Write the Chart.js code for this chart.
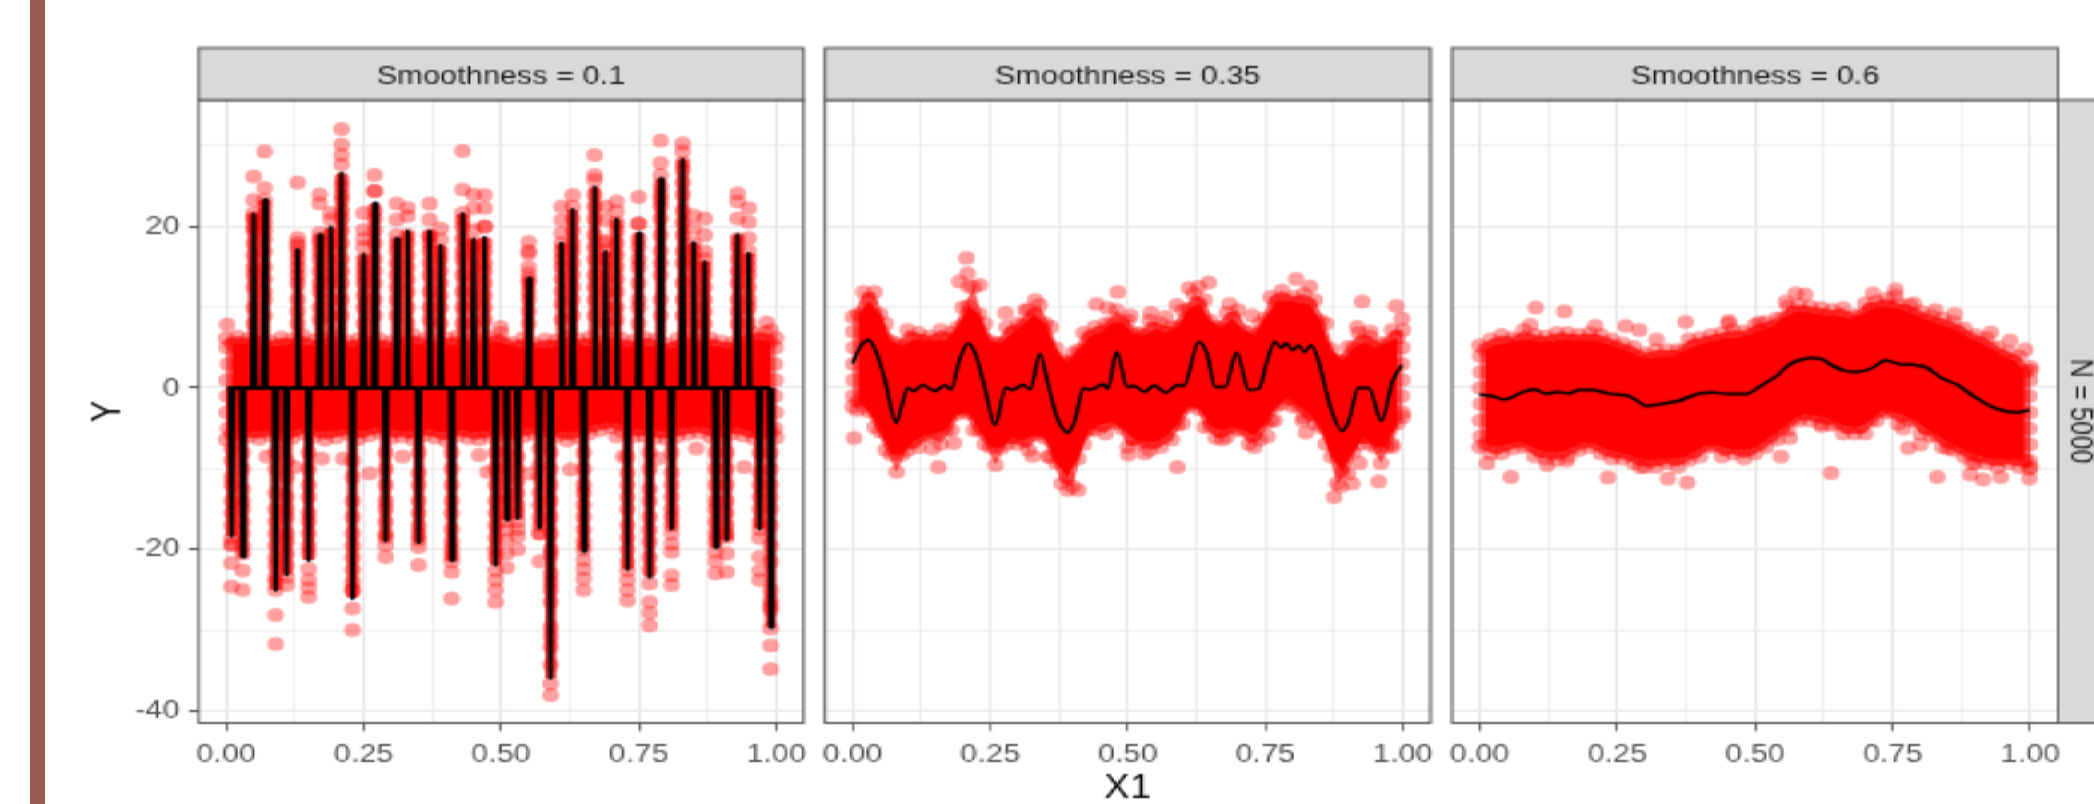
<!DOCTYPE html>
<html>
<head>
<meta charset="utf-8">
<title>Smoothness facets</title>
<script src="https://cdn.jsdelivr.net/npm/chart.js@4"></script>
<style>
    html, body { margin: 0; padding: 0; width: 2094px; height: 804px; overflow: hidden; background: #fff; }
    #bar { position: absolute; left: 30px; top: 0; width: 15px; height: 804px; background: #9b5c55; }
    #plot { position: absolute; left: 0; top: 0; width: 873px; height: 402px; transform-origin: 0 0; transform: scale(2.4, 2); }
    #plot canvas { position: absolute; top: 0; }
</style>
</head>
<body>
<div id="bar"></div>
<div id="plot">
    <canvas id="panel1"></canvas>
    <canvas id="panel2"></canvas>
    <canvas id="panel3"></canvas>
</div>
<script>
var xMajor = [0, 0.25, 0.5, 0.75, 1];
var xMinor = [0.125, 0.375, 0.625, 0.875];
var yMajor = [-40, -20, 0, 20];
var yMinor = [-30, -10, 10, 30];

// x positions of the outer edge of the clouds, shared by the three panels
var bandX = [0, 0.02, 0.04, 0.06, 0.08, 0.1, 0.12, 0.14, 0.16, 0.18, 0.2, 0.22, 0.24, 0.26, 0.28, 0.3, 0.32, 0.34, 0.36, 0.38, 0.4, 0.42, 0.44, 0.46, 0.48, 0.5, 0.52, 0.54, 0.56, 0.58, 0.6, 0.62, 0.64, 0.66, 0.68, 0.7, 0.72, 0.74, 0.76, 0.78, 0.8, 0.82, 0.84, 0.86, 0.88, 0.9, 0.92, 0.94, 0.96, 0.98, 1];
// x positions of the dense part of the clouds and of the cells in panel 1
var cellX = [0.01, 0.03, 0.05, 0.07, 0.09, 0.11, 0.13, 0.15, 0.17, 0.19, 0.21, 0.23, 0.25, 0.27, 0.29, 0.31, 0.33, 0.35, 0.37, 0.39, 0.41, 0.43, 0.45, 0.47, 0.49, 0.51, 0.53, 0.55, 0.57, 0.59, 0.61, 0.63, 0.65, 0.67, 0.69, 0.71, 0.73, 0.75, 0.77, 0.79, 0.81, 0.83, 0.85, 0.87, 0.89, 0.91, 0.93, 0.95, 0.97, 0.99];

// panel 1, smoothness 0.1
var top1 = [6.2, 6.4, 6.1, 6.6, 5.8, 6.3, 6, 6.5, 5.9, 6.2, 6.4, 5.8, 6.1, 6.5, 6, 5.7, 6.3, 6.6, 6, 5.8, 6.2, 6.4, 5.9, 6, 6.3, 6.8, 5.6, 6.2, 5.5, 6, 5.9, 6.4, 6, 6.3, 5.7, 6.2, 6.1, 5.8, 6.3, 6, 5.4, 6.1, 6.3, 5.9, 6.2, 5.8, 5.6, 6.4, 6.8, 6.9, 6.2];
var bottom1 = [-6.4, -6.6, -6, -6.3, -5.8, -6.6, -6.2, -5.6, -6, -6.4, -6.1, -5.7, -6.3, -5.9, -5.5, -6.2, -6, -6.4, -5.8, -6.1, -6.5, -5.9, -6.2, -6.4, -6, -5.8, -6.3, -6, -5.7, -6.2, -6, -6.5, -6.1, -5.6, -5.2, -4.9, -5.4, -6, -5.9, -6.2, -6.3, -6, -5.7, -5.5, -6, -6.2, -5.6, -5.9, -6.3, -6.4, -6.1];
var denseTop1 = [5.5, 5.6, 5.5, 5.3, 5.2, 5.4, 5.5, 5.3, 5.2, 5.5, 5.3, 5.1, 5.5, 5.4, 5, 5.2, 5.6, 5.5, 5, 5.2, 5.4, 5.3, 5.1, 5.3, 5.8, 5.4, 5.1, 5, 5, 5.1, 5.3, 5.4, 5.3, 5.1, 5.1, 5.3, 5.1, 5.2, 5.3, 4.8, 4.9, 5.4, 5.3, 5.2, 5.2, 4.9, 5.2, 5.8, 6.1, 5.8];
var denseBottom1 = [-5.7, -5.5, -5.4, -5.3, -5.4, -5.6, -5.1, -5, -5.4, -5.4, -5.1, -5.2, -5.3, -4.9, -5, -5.3, -5.4, -5.3, -5.1, -5.5, -5.4, -5.2, -5.5, -5.4, -5.1, -5.3, -5.3, -5, -5.1, -5.3, -5.5, -5.5, -5, -4.6, -4.3, -4.3, -4.9, -5.1, -5.2, -5.4, -5.3, -5, -4.8, -4.9, -5.3, -5.1, -4.9, -5.3, -5.5, -5.4];
var cellPeak = [-18.3, -20.9, 21.5, 23.3, -25, -23.1, 17.1, -21.3, 19, 19.9, 26.6, -26, 16.5, 22.9, -18.9, 18.5, 19.4, -19.1, 19.4, 17.6, -21.3, 21.6, 18.4, 18.6, -21.9, -16.3, -16.1, 13.6, -17.3, -35.9, 17.9, 22.1, -20.2, 24.9, 16.9, 20.9, -22.4, 19.2, -23.4, 25.9, -17.4, 28.3, 18, 15.6, -19.7, -18.8, 19, 16.6, -17.4, -29.6];
// points standing out past the peak of each cell
var cellTips = [
    [-24.6, -21.7, -19.3], [-25, -22.6], [26.2, 23.3, 21.7], [29.3, 24.8, 23.3], [-31.7, -28.1, -25],
    [-24.4, -23.4], [25.5, 18.6, 17.6], [-25.9, -24.8, -23.8, -22.4], [24, 22.9, 19.2], [21.7, 20.9],
    [32.1, 30.2, 28.9, 27.7, 25.8, 23.3], [-30, -27.3, -25], [21.7, 19.6], [26.4, 24.4, 24.4], [-20.9, -19.5],
    [22.9, 20.9], [22.3, 21.3], [-21.9, -19.7], [22.9, 20.9, 18.8], [19.8, 18.4],
    [-26.1, -22.8, -21.5], [29.4, 24.6, 21.7], [24, 22.3, 19.6], [23.9, 22.3, 20, 20], [-26.5, -25, -23.8, -22.6],
    [-22.2, -20.5, -18.8], [-20, -18.4], [18.1, 16.7, 14.2], [-21.5, -18], [-38, -36.6, -34.3, -32, -30.8, -29.6, -24, -20.7],
    [22.5, 20.8, 19.2], [23.9, 22.5], [-25, -23.6, -22.4, -21.3], [28.9, 26.4, 25.8], [22.5, 20.8, 18.3],
    [23.1, 21.9], [-26.3, -25, -23.8, -22.6], [23.7, 20.4, 20.4], [-29.4, -27.9, -26.5, -24.2], [30.7, 27.9, 26.4, 23.3],
    [-24.4, -23.2, -20.3, -19.3], [30.3, 29.3, 27.9], [21.4, 19.8], [21, 19, 16.9], [-23, -21.5, -20.3],
    [-22.8, -20.5], [24.1, 23.1, 21], [22.3, 20.6, 18.6], [-23.8, -22.6, -20.9, -18.6], [-34.8, -31.9, -29.8, -27.5, -26.3]
];
// points along the column of each cell
var cellBody = [
    [-7.5, -9, -11, -12, -14, -15.5, -17, -18.5, -19.5], [-8, -10, -12.5, -14, -15, -16.5, -18, -19.5, -20.5],
    [8, 10, 12.5, 14, 15, 16.5, 18, 19.5, 20, 21, 21], [9, 11, 12, 13.5, 15, 17, 18.5, 19.5, 20.5, 21.5, 22.5],
    [-8, -10, -13, -15, -16.5, -18, -19.5, -21, -22, -23.5, -24], [-9, -11, -13.5, -15, -16, -18, -19, -20.5, -22],
    [8, 9.5, 11, 13, 14, 15, 16, 17, 18], [-8, -10, -12, -13.5, -15.5, -16.5, -18, -19.5, -20.5],
    [8.5, 10, 12, 13, 14.5, 16, 17, 18, 18.5], [9, 11, 13, 14, 15.5, 17, 18, 19],
    [9, 11, 13, 14.5, 16, 18, 19.5, 21, 22, 24, 25], [-9, -11, -14, -16, -18, -19.5, -21, -22.5, -24, -25],
    [8, 10, 11.5, 13, 14, 15, 16, 17.5, 18.5], [9, 11, 13, 14.5, 16, 18, 19.5, 21, 22],
    [-8, -10, -12, -14, -15, -16.5, -18, -18.5], [9, 11, 12.5, 14, 15.5, 17, 18, 19],
    [8, 10, 12, 13.5, 15, 16.5, 18, 19], [-8, -10.5, -12, -14, -15.5, -17, -18, -18.8],
    [8.5, 10, 12, 14, 15.5, 17, 18, 19], [8, 10, 11.5, 13, 14.5, 16, 17],
    [-8, -10, -12, -14, -15.5, -17.5, -19, -20, -20.8], [8, 10, 12, 14, 16, 17, 18.5, 20, 20.8],
    [8, 10.5, 12, 13.5, 15, 16.5, 17.5, 18], [8.5, 10, 11.5, 13, 14.5, 15.5, 17, 18],
    [-8, -10, -12, -14, -15.5, -17, -18.5, -20, -21], [-8, -9.5, -11, -13, -14, -15.5, -16.5, -17.5],
    [-8.5, -10, -11.5, -13, -14.5, -15.5, -16.5, -17.5], [8, 9.5, 11, 12, 13, 13.5, 15, 17],
    [-7.5, -9.5, -11, -13, -14.5, -16, -17, -18], [-8, -10, -12, -14, -16, -18, -20, -23, -25, -26.5],
    [8.5, 10.5, 12, 13.5, 15, 16, 17, 18], [9, 11, 12.5, 14, 15.5, 17, 18, 19.5, 21],
    [-8, -10, -12, -13, -14.5, -16, -17.5, -19, -20], [9, 11, 12.5, 14, 16, 17.5, 19, 21, 22.5, 24],
    [8, 10, 12, 13.5, 15, 16, 17, 18], [8.5, 10, 12, 13.5, 15, 16.5, 18, 19.5, 20.5],
    [-8.5, -10.5, -12, -13.5, -15, -17, -18.5, -20, -21.5], [8, 10, 11, 13, 15, 16, 17.5, 18.5],
    [-8, -10, -12.5, -14, -16, -17.5, -19, -21, -22.5], [9, 11, 14, 15.5, 17, 19, 21, 22.5, 24, 25],
    [-8, -10.5, -12, -13.5, -15, -16, -17, -18], [9, 11, 13, 15.5, 17, 19, 20.5, 22, 24, 25.5, 27],
    [8, 10, 12, 13.5, 15, 16, 17, 18], [8, 9.5, 11, 12.5, 14, 15, 16],
    [-8, -10, -12, -14, -15, -16.5, -18, -19], [-8, -10, -12, -14, -15.5, -17, -18, -18.5],
    [8, 9.5, 11, 13, 14.5, 16, 17.5, 18.5], [8, 10, 11, 12.5, 14, 15, 16, 17],
    [-8, -10.5, -12, -13.5, -15, -16.5, -17.5], [-8, -10, -12, -13.5, -15, -17, -19.5, -21.5, -25, -27]
];
var extraX1 = [0.002, 0.499, 0.983, 0.99, 0.074, 0.125, 0.174, 0.213, 0.261, 0.321, 0.46, 0.475, 0.626, 0.942, 0.855, 0.786, 0.722, 0.71, 0.553, 0.001, 0.003, 0.001, 0.002, 0.001, 0.003, 0.999, 0.998, 0.999, 0.998, 0.999, 0.998];
var extraY1 = [7.85, 7.6, 8.1, 7.2, -8.5, -9.8, -8.7, -8.7, -10.6, -8.5, -8.3, -10.4, -10.1, -9.8, -7.5, -8.7, -8.5, -6, -10.6, 5, 3, 1, -1, -3, -5, 5, 3, 1, -1, -3, -5];

// panel 2, smoothness 0.35
var top2 = [8.8, 11.9, 11.9, 8, 5.5, 7.2, 6.8, 6.4, 7.2, 6.8, 10, 12.5, 8, 5.5, 7.6, 8, 9.7, 10.3, 7.6, 3.5, 4.3, 6.8, 7.6, 8, 9.7, 8.4, 6.8, 8.4, 8, 7.6, 9.7, 11.7, 10.9, 7.6, 9.3, 9.7, 6.8, 8, 11.3, 12.1, 11.3, 11.7, 10.9, 8, 3.5, 5.1, 6.8, 6.4, 5.5, 7.2, 7.2];
var bottom2 = [-2.3, -2.3, -4.8, -7.7, -10.4, -7.7, -7.3, -6, -6.9, -5.2, -2.7, -5.2, -6.9, -9.5, -6.9, -6.9, -7.7, -5.6, -8.5, -11.8, -12.2, -6.9, -5.2, -5.6, -4.4, -7.3, -6.9, -7.7, -7.3, -6.4, -4.4, -1.9, -4.8, -6.2, -6, -5.2, -6.9, -6.4, -4, -1.9, -2.3, -3.6, -4.4, -6.9, -11.8, -10.6, -6.9, -6.9, -9.3, -6.9, -3.6];
var denseTop2 = [9.2, 10.8, 9.2, 5.8, 5.2, 6, 5.9, 5.9, 6, 7.5, 10.2, 9.2, 5.8, 5.6, 6.9, 7.9, 9.1, 8, 4.9, 3.2, 4.7, 6.4, 6.9, 8, 8.2, 6.7, 6.6, 7.3, 6.9, 7.6, 9.8, 10.5, 8.4, 7.5, 8.6, 7.2, 6.5, 8.7, 10.8, 10.8, 10.6, 10.4, 8.4, 4.8, 3.4, 5, 5.7, 5, 5.5, 6.3];
var denseBottom2 = [-1.6, -2.9, -5.4, -8.2, -8.2, -6.7, -5.9, -5.6, -5.2, -3.2, -3.1, -5.2, -7.3, -7.4, -6.1, -6.5, -5.8, -6.2, -9.3, -11.1, -8.7, -5.2, -4.6, -4.2, -5, -6.3, -6.6, -6.7, -6, -4.6, -2.3, -2.6, -4.7, -5.3, -4.8, -5.2, -5.9, -4.4, -2.2, -1.3, -2.2, -3.2, -4.8, -8.5, -10.4, -7.9, -6.1, -7.3, -7.3, -4.4];
var lineX2 = [0, 0.014, 0.029, 0.044, 0.059, 0.079, 0.089, 0.1, 0.111, 0.128, 0.149, 0.168, 0.179, 0.194, 0.21, 0.224, 0.239, 0.259, 0.278, 0.291, 0.31, 0.323, 0.34, 0.355, 0.37, 0.391, 0.404, 0.42, 0.43, 0.456, 0.464, 0.48, 0.499, 0.512, 0.531, 0.548, 0.569, 0.591, 0.602, 0.629, 0.644, 0.659, 0.677, 0.698, 0.72, 0.739, 0.752, 0.767, 0.779, 0.788, 0.8, 0.81, 0.821, 0.833, 0.846, 0.868, 0.889, 0.902, 0.919, 0.938, 0.961, 0.981, 0.998];
var lineY2 = [3.06, 5.12, 5.95, 4.3, 1, -4.3, -2.3, 0.04, -0.37, 0.37, -0.35, 0.33, -0.17, 3.4, 5.5, 4.1, 0.4, -4.6, 0, -0.2, 0.4, -0.2, 4.2, 0.6, -3.35, -5.5, -4, 0.04, -0.2, 0.45, -0.05, 4.5, 0.16, 0.25, -0.45, 0.33, -0.54, 0.37, 0.25, 5.74, 4.3, 0.16, 0.16, 4.4, -0.25, 0, 3.07, 5.7, 5, 5.55, 4.7, 5.3, 4.5, 5.25, 3.5, -2.3, -5.3, -4, 0, 0, -4.05, 0.8, 2.86];
var extraX2 = [0.207, 0.209, 0.194, 0.231, 0.211, 0.482, 0.443, 0.464, 0.278, 0.314, 0.332, 0.505, 0.542, 0.569, 0.589, 0.611, 0.629, 0.647, 0.685, 0.726, 0.806, 0.831, 0.926, 0.988, 0.998, 0.917, 0.941, 0.003, 0.008, 0.156, 0.184, 0.145, 0.327, 0.355, 0.41, 0.391, 0.501, 0.531, 0.59, 0.672, 0.73, 0.754, 0.824, 0.818, 0.875, 0.887, 0.908, 0.956, 0.921, 0.981, 0.767, 0.001, 0.002, 0.001, 0.002, 0.001, 0.999, 0.998, 0.999, 0.998, 0.999];
var extraY2 = [16.1, 14.2, 13.2, 12.8, 12.6, 11.9, 10.4, 9.9, 9.3, 9.7, 10.9, 9, 9.3, 8.8, 10.3, 12.4, 12.5, 13.1, 10.4, 9, 13.5, 12.6, 10.7, 10.2, 8.6, 7.6, 7, -6.2, -2.7, -9.8, -6.8, -7.5, -8.4, -8.5, -12.6, -12.6, -8.2, -8.1, -9.8, -6.4, -7.3, -6, -5.5, -4, -13.5, -12.2, -11.8, -11.6, -9.3, -7.3, -4, 7, 5, 3, 1, -1, 5, 3, 1, -1, -3];

// panel 3, smoothness 0.6
var top3 = [5.3, 6, 6.6, 6.2, 7.2, 6.6, 6.4, 6.8, 6.8, 6.6, 6.8, 6.6, 6, 5.5, 5.1, 4.3, 4.7, 4.7, 4.7, 6, 6.2, 6.6, 6.8, 7.2, 7, 7.8, 8.2, 8.6, 10.1, 10.3, 10.1, 9.9, 9.7, 9.9, 9, 10.5, 10.7, 11.1, 10.5, 10.3, 9.5, 9, 8.6, 8.2, 7.4, 6.6, 6.2, 5.1, 4.5, 3.9, 2.2];
var bottom3 = [-7.3, -8.1, -8.1, -7.5, -7.3, -8.5, -8.7, -8.9, -8.5, -7.7, -7.3, -8.1, -8.7, -8.7, -9.3, -9.8, -9.8, -9.3, -9.8, -8.9, -8.5, -7.3, -8.5, -8.1, -8.7, -8.1, -7.3, -6.4, -5.2, -4, -4, -4.4, -4.6, -5.6, -5.6, -5.6, -4, -3.1, -4.4, -4, -5.6, -6, -7.3, -7.7, -8.5, -9.3, -9.3, -9.8, -9.3, -9.8, -9.8];
var denseTop3 = [4.8, 5.4, 5.6, 5.9, 6, 5.7, 5.8, 6, 5.9, 5.9, 5.9, 5.5, 5, 4.6, 3.9, 3.7, 3.9, 3.9, 4.6, 5.2, 5.6, 5.9, 6.2, 6.3, 6.6, 7.2, 7.6, 8.6, 9.4, 9.4, 9.2, 9, 9, 8.6, 9, 9.8, 10.1, 10, 9.6, 9.1, 8.5, 8, 7.6, 7, 6.2, 5.6, 4.9, 4, 3.4, 2.2];
var denseBottom3 = [-6.9, -7.3, -7, -6.6, -7.1, -7.8, -8, -7.9, -7.3, -6.7, -6.9, -7.6, -7.9, -8.2, -8.8, -9, -8.8, -8.8, -8.6, -7.9, -7.1, -7.1, -7.5, -7.6, -7.6, -6.9, -6, -5, -3.8, -3.2, -3.4, -3.7, -4.3, -4.8, -4.8, -4, -2.8, -2.9, -3.4, -4, -5, -5.9, -6.7, -7.3, -8.1, -8.5, -8.8, -8.8, -8.8, -9];
var lineX3 = [0, 0.022, 0.045, 0.061, 0.08, 0.1, 0.119, 0.141, 0.162, 0.181, 0.205, 0.236, 0.267, 0.282, 0.302, 0.329, 0.36, 0.399, 0.422, 0.453, 0.485, 0.508, 0.539, 0.562, 0.582, 0.605, 0.621, 0.64, 0.663, 0.683, 0.71, 0.737, 0.761, 0.788, 0.811, 0.838, 0.866, 0.897, 0.94, 0.975, 0.998];
var lineY3 = [-0.8, -1, -1.4, -1.07, -0.45, -0.17, -0.66, -0.5, -0.66, -0.25, -0.25, -0.7, -0.9, -1.36, -2.2, -2, -1.6, -0.66, -0.54, -0.74, -0.74, 0.17, 1.5, 2.9, 3.5, 3.7, 3.6, 2.8, 2.15, 2, 2.4, 3.4, 3, 2.9, 2.56, 1.28, 0.45, -1, -2.6, -3, -2.7];
var extraX3 = [0.102, 0.154, 0.092, 0.21, 0.265, 0.29, 0.321, 0.374, 0.452, 0.452, 0.508, 0.574, 0.591, 0.556, 0.714, 0.755, 0.755, 0.788, 0.827, 0.862, 0.928, 0.963, 0.99, 1, 0.057, 0.014, 0.123, 0.158, 0.233, 0.342, 0.377, 0.292, 0.638, 0.778, 0.8, 0.769, 0.831, 0.891, 0.914, 0.946, 0.998, 0.998, 0.894, 0.85, 0.547, 0.563, 0.621, 0.001, 0.002, 0.001, 0.002, 0.001, 0.002, 0.999, 0.998, 0.999, 0.998, 0.999, 0.998];
var extraY3 = [10, 9.5, 7.8, 7.7, 7.7, 7.2, 6, 8.2, 8.3, 8, 8.1, 11.7, 11.6, 10.7, 11.7, 12.2, 11.5, 10.5, 9.7, 9.2, 6.9, 5.9, 4.8, 2.6, -11, -9.3, -9.5, -9, -11.1, -11.2, -11.7, -9.8, -10.5, -7.4, -7, -5, -11, -10.7, -11.3, -11, -11.2, -10, -9.3, -7.5, -8.5, -6.2, -4.7, 4, 2, 0, -2, -4, -6, 1, -1, -3, -5, -7, -9];

var stripTitles = ["Smoothness = 0.1", "Smoothness = 0.35", "Smoothness = 0.6"];
var sideTitle = "N = 5000";

var tickFont = { family: "'Liberation Sans', Arial, sans-serif", size: 12.8 };
var titleFont = { family: "'Liberation Sans', Arial, sans-serif", size: 16, lineHeight: 1 };
var markerRed = "rgba(255,0,0,0.38)";
var markerSize = 3.5;

function toPoints(xs, ys) {
    return xs.map(function(x, i) {
        return { x: x, y: ys[i] };
    });
}

function markerDataset(points, order) {
    return {
        data: points,
        showLine: false,
        pointRadius: markerSize,
        pointBorderWidth: 0,
        pointBackgroundColor: markerRed,
        order: order
    };
}

// outer edge as single markers over a softer area, dense part solid on top of it
function cloudDatasets(tops, bottoms, denseTops, denseBottoms) {
    var upper = markerDataset(toPoints(cellX, denseTops), 5);
    upper.fill = "+1";
    upper.backgroundColor = "#ff0000";
    var outer = markerDataset(toPoints(bandX, tops), 6);
    outer.fill = "+1";
    outer.backgroundColor = "rgba(255,0,0,0.62)";
    return [
        upper,
        markerDataset(toPoints(cellX, denseBottoms), 5),
        outer,
        markerDataset(toPoints(bandX, bottoms), 6)
    ];
}

function curveDataset(points, width, smooth) {
    return {
        data: points,
        borderColor: "#000",
        borderWidth: width,
        pointRadius: 0,
        borderJoinStyle: "round",
        cubicInterpolationMode: smooth ? "monotone" : "default",
        tension: 0,
        order: 1
    };
}

// panel 1: wash under the points of every column
function columnsDataset() {
    var points = [];
    cellX.forEach(function(x, i) {
        points.push({ x: x, y: 0 }, { x: x, y: cellPeak[i] }, { x: x, y: null });
    });
    return {
        data: points,
        borderColor: "rgba(255,0,0,0.7)",
        borderWidth: 4.8,
        borderCapStyle: "butt",
        pointRadius: 0,
        spanGaps: false,
        order: 3
    };
}

function cellPointsDataset(lists) {
    var points = [];
    cellX.forEach(function(x, i) {
        lists[i].forEach(function(y) {
            points.push({ x: x, y: y });
        });
    });
    return markerDataset(points, 2);
}

function spikeLine() {
    var points = [{ x: 0.002, y: 0 }];
    cellX.forEach(function(x, i) {
        points.push({ x: x - 0.003, y: 0 }, { x: x, y: cellPeak[i] }, { x: x + 0.003, y: 0 });
    });
    return points;
}

// strips and panel border, ggplot style
var facetPlugin = {
    id: "facet",
    afterDraw: function(chart, args, opts) {
        var ctx = chart.ctx;
        var a = chart.chartArea;
        var stripTop = 24;
        ctx.save();
        ctx.strokeStyle = "#555";
        ctx.lineWidth = 1;
        ctx.strokeRect(a.left, a.top, a.right - a.left, a.bottom - a.top);

        ctx.fillStyle = "#d9d9d9";
        ctx.fillRect(a.left, stripTop, a.right - a.left, a.top - stripTop);
        ctx.strokeRect(a.left, stripTop, a.right - a.left, a.top - stripTop);
        ctx.fillStyle = "#1a1a1a";
        ctx.font = tickFont.size + "px " + tickFont.family;
        ctx.textAlign = "center";
        ctx.textBaseline = "middle";
        ctx.fillText(opts.title, (a.left + a.right) / 2, (stripTop + a.top) / 2 + 1);

        if (opts.side) {
            ctx.fillStyle = "#d9d9d9";
            ctx.fillRect(a.right, a.top, chart.width - a.right, a.bottom - a.top);
            ctx.strokeRect(a.right, a.top, chart.width - a.right + 2, a.bottom - a.top);
            ctx.translate(a.right + 8.8, (a.top + a.bottom) / 2);
            ctx.rotate(Math.PI / 2);
            ctx.fillStyle = "#1a1a1a";
            ctx.fillText(opts.side, 0, 0);
        }
        ctx.restore();
    }
};

function makePanel(id, box, datasets, strip, side, showY, showX1) {
    var canvas = document.getElementById(id);
    canvas.width = box.width;
    canvas.height = 402;
    canvas.style.left = box.left + "px";

    return new Chart(canvas, {
        type: "line",
        data: { datasets: datasets },
        plugins: [facetPlugin],
        options: {
            responsive: false,
            animation: false,
            devicePixelRatio: 1,
            events: [],
            layout: {
                autoPadding: false,
                padding: { left: showY ? 0 : box.padLeft, right: box.padRight, top: 50, bottom: 0 }
            },
            plugins: {
                legend: { display: false },
                tooltip: { enabled: false },
                facet: { title: strip, side: side }
            },
            scales: {
                x: {
                    type: "linear",
                    min: -0.05,
                    max: 1.05,
                    afterBuildTicks: function(scale) {
                        scale.ticks = xMajor.concat(xMinor).sort().map(function(v) {
                            return { value: v };
                        });
                    },
                    afterFit: function(scale) {
                        scale.height = 40.5;
                    },
                    border: { display: false },
                    grid: {
                        color: "#e8e8e8",
                        lineWidth: function(c) {
                            return xMajor.indexOf(c.tick.value) >= 0 ? 1.1 : 0.7;
                        },
                        tickColor: function(c) {
                            return xMajor.indexOf(c.tick.value) >= 0 ? "#333" : "rgba(0,0,0,0)";
                        },
                        tickWidth: 0.7,
                        tickLength: 4
                    },
                    ticks: {
                        autoSkip: false,
                        maxRotation: 0,
                        minRotation: 0,
                        padding: 4,
                        color: "#4d4d4d",
                        font: tickFont,
                        callback: function(value) {
                            return xMajor.indexOf(value) >= 0 ? value.toFixed(2) : "";
                        }
                    },
                    title: {
                        display: showX1,
                        text: "X1",
                        color: "#000",
                        font: titleFont,
                        padding: { top: 0, bottom: -1 }
                    }
                },
                y: {
                    type: "linear",
                    min: -41.5,
                    max: 35.7,
                    afterBuildTicks: function(scale) {
                        scale.ticks = yMajor.concat(yMinor).sort(function(a, b) {
                            return a - b;
                        }).map(function(v) {
                            return { value: v };
                        });
                    },
                    afterFit: function(scale) {
                        scale.width = showY ? box.padLeft : 0;
                    },
                    border: { display: false },
                    grid: {
                        color: "#e8e8e8",
                        drawTicks: showY,
                        lineWidth: function(c) {
                            return yMajor.indexOf(c.tick.value) >= 0 ? 1.1 : 0.7;
                        },
                        tickColor: function(c) {
                            return yMajor.indexOf(c.tick.value) >= 0 ? "#333" : "rgba(0,0,0,0)";
                        },
                        tickWidth: 0.9,
                        tickLength: 4
                    },
                    ticks: {
                        display: showY,
                        autoSkip: false,
                        padding: 4,
                        color: "#4d4d4d",
                        font: tickFont,
                        callback: function(value) {
                            return yMajor.indexOf(value) >= 0 ? String(value) : "";
                        }
                    },
                    title: {
                        display: showY,
                        text: "Y",
                        color: "#000",
                        font: titleFont,
                        padding: 8
                    }
                }
            }
        }
    });
}

makePanel("panel1", { left: 30, width: 310, padLeft: 52.75, padRight: 4 },
    cloudDatasets(top1, bottom1, denseTop1, denseBottom1).concat([
        markerDataset(toPoints(extraX1, extraY1), 4),
        columnsDataset(),
        cellPointsDataset(cellBody),
        cellPointsDataset(cellTips),
        curveDataset(spikeLine(), 1.9, false)
    ]), stripTitles[0], null, true, false);

makePanel("panel2", { left: 330, width: 272, padLeft: 13.75, padRight: 6 },
    cloudDatasets(top2, bottom2, denseTop2, denseBottom2).concat([
        markerDataset(toPoints(extraX2, extraY2), 4),
        curveDataset(toPoints(lineX2, lineY2), 1.5, true)
    ]), stripTitles[1], null, false, true);

makePanel("panel3", { left: 593, width: 280, padLeft: 12, padRight: 15.5 },
    cloudDatasets(top3, bottom3, denseTop3, denseBottom3).concat([
        markerDataset(toPoints(extraX3, extraY3), 4),
        curveDataset(toPoints(lineX3, lineY3), 1.5, true)
    ]), stripTitles[2], sideTitle, false, false);
</script>
</body>
</html>
